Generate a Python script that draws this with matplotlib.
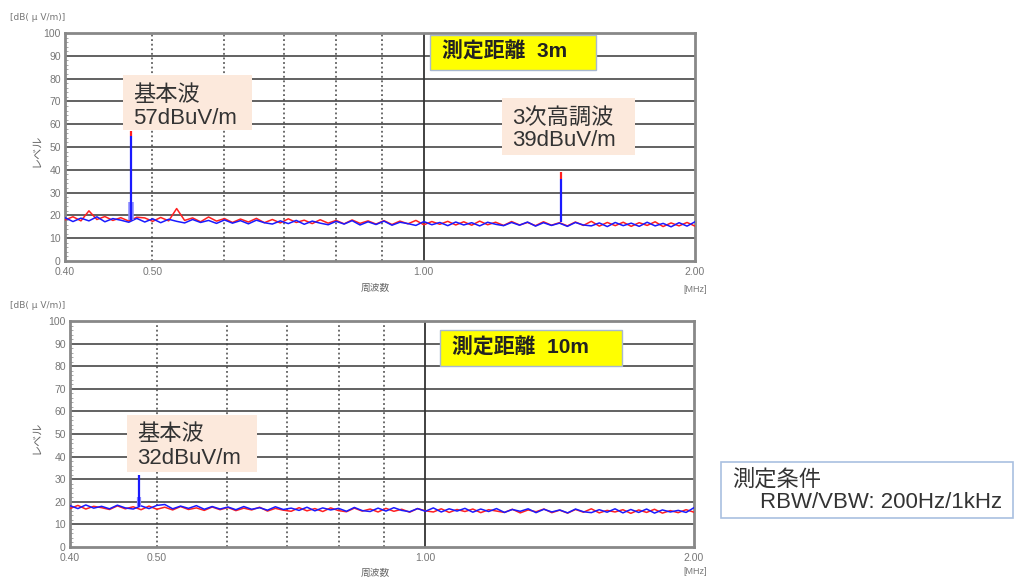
import numpy as np
import matplotlib
matplotlib.use("Agg")
import matplotlib.pyplot as plt
import matplotlib.ticker as ticker
from matplotlib.patches import Rectangle

plt.rcParams['font.family'] = ['Liberation Sans', 'Noto Sans CJK JP', 'DejaVu Sans']

# sweep range [MHz]
f_start, f_stop = 0.40, 2.00
x_ticks = [0.40, 0.50, 1.00, 2.00]
x_ticklabels = ['0.40', '0.50', '1.00', '2.00']
dash_grid = [0.5, 0.6, 0.7, 0.8, 0.9]
solid_grid = [1.0]

# noise floor (dBuV/m), 3m distance
red_3m = [18.0, 19.4, 17.6, 22.0, 18.2, 19.5, 17.8, 19.0, 17.5, 19.2,
          18.9, 17.4, 19.1, 17.6, 23.0, 17.8, 18.9, 17.2, 19.3, 17.5,
          18.6, 16.9, 18.4, 17.1, 18.7, 16.8, 18.2, 16.7, 18.5, 16.9,
          17.9, 16.4, 18.1, 16.6, 17.8, 16.3, 18.0, 16.5, 17.6, 16.2,
          17.7, 16.0, 17.5, 16.3, 17.8, 15.9, 17.3, 16.1, 17.4, 15.8,
          17.2, 15.7, 17.5, 15.9, 17.0, 15.6, 17.3, 15.8, 16.9, 15.5,
          17.2, 15.7, 16.8, 15.4, 17.1, 15.6, 17.4, 15.3, 16.9, 15.5,
          17.0, 15.2, 16.8, 15.6, 17.2, 15.1, 16.7, 15.4, 16.9, 15.3]
blue_3m = [19.0, 17.3, 18.8, 17.6, 19.4, 17.2, 18.6, 17.9, 17.0, 18.7,
           17.1, 18.5, 16.8, 18.3, 17.4, 16.7, 18.2, 16.9, 17.8, 16.5,
           18.0, 16.6, 17.7, 16.3, 17.9, 16.8, 16.2, 17.6, 16.4, 17.8,
           16.1, 17.5, 16.6, 15.9, 17.4, 16.2, 17.7, 15.8, 17.2, 16.0,
           17.5, 15.7, 17.0, 16.4, 15.6, 17.3, 15.9, 16.9, 15.5, 17.1,
           15.8, 16.8, 15.4, 17.0, 16.1, 15.5, 16.9, 15.7, 17.1, 15.3,
           16.8, 15.6, 16.6, 15.2, 16.9, 15.8, 15.4, 16.7, 15.1, 16.9,
           15.5, 16.6, 15.2, 17.0, 15.4, 16.5, 15.0, 16.8, 15.3, 17.2]

# 10m distance
red_10m = [17.0, 18.4, 16.8, 18.0, 17.4, 16.6, 18.2, 16.9, 17.8, 16.5,
           18.1, 16.7, 17.6, 16.4, 17.9, 16.6, 17.3, 16.2, 17.7, 16.5,
           17.5, 16.1, 17.2, 16.4, 17.6, 15.9, 17.1, 16.3, 15.8, 17.4,
           16.0, 17.0, 15.7, 17.3, 16.1, 15.6, 17.2, 15.9, 16.8, 15.5,
           17.1, 15.8, 16.7, 15.4, 17.0, 16.0, 15.5, 16.9, 15.3, 16.6,
           15.7, 16.8, 15.2, 16.5, 15.9, 15.3, 16.7, 15.1, 16.4, 15.6,
           16.8, 15.2, 16.3, 15.0, 16.6, 15.4, 16.9, 15.1, 16.2, 15.5,
           16.5, 14.9, 16.4, 15.3, 16.7, 15.0, 16.1, 15.2, 16.5, 15.4]
blue_10m = [18.3, 17.0, 18.6, 17.2, 18.0, 16.9, 18.5, 17.3, 16.8, 18.2,
            17.0, 18.4, 18.8, 16.9, 18.1, 17.1, 18.3, 16.7, 17.9, 16.8,
            17.7, 16.5, 17.9, 16.7, 17.4, 16.3, 17.8, 16.6, 17.2, 16.2,
            17.6, 16.0, 17.3, 16.4, 17.1, 15.8, 17.5, 16.1, 15.7, 17.2,
            15.9, 17.4, 16.2, 15.6, 17.0, 15.8, 17.3, 15.5, 16.9, 15.9,
            17.1, 15.4, 16.8, 15.7, 17.0, 15.3, 16.6, 15.8, 16.9, 15.2,
            16.7, 15.5, 16.4, 15.1, 16.8, 15.6, 15.2, 16.5, 15.4, 16.9,
            15.1, 16.6, 15.3, 16.8, 15.0, 16.4, 15.5, 16.2, 15.3, 17.4]

# peaks: frequency, floor, blue top, red top
peak_freq_3m = [0.474, 1.422]
peak_floor_3m = [18.0, 17.0]
peak_blue_3m = [55.0, 36.0]
peak_red_3m = [57.0, 39.0]
peak_freq_10m = [0.478]
peak_floor_10m = [17.5]
peak_blue_10m = [32.0]

W, H = 1014, 579
fig = plt.figure(figsize=(W / 100, H / 100), dpi=100)


def px(x0, y0, x1, y1):
    # pixel box (top-left origin) -> figure fraction rect
    return [x0 / W, 1 - y1 / H, (x1 - x0) / W, (y1 - y0) / H]


def setup(ax):
    ax.set_xscale('log')
    ax.set_xlim(f_start, f_stop)
    ax.set_ylim(0, 100)
    ax.set_xticks(x_ticks)
    ax.set_xticklabels(x_ticklabels)
    ax.xaxis.set_minor_locator(ticker.NullLocator())
    ax.set_yticks(range(0, 101, 10))
    ax.yaxis.set_minor_locator(ticker.MultipleLocator(2))
    ax.tick_params(axis='x', length=0, pad=4, labelsize=7.5, labelcolor='#777777')
    ax.tick_params(axis='y', which='major', length=0, pad=3, labelsize=7.5, labelcolor='#777777')
    ax.tick_params(axis='y', which='minor', direction='in', length=2, color='#999999')
    for y in range(10, 100, 10):
        ax.axhline(y, color='#555555', lw=1.3, zorder=1)
    for x in dash_grid:
        ax.axvline(x, color='#444444', lw=1.1, ls=(0, (1.2, 1.8)), zorder=1)
    for x in solid_grid:
        ax.axvline(x, color='#333333', lw=1.3, zorder=1)
    for s in ax.spines.values():
        s.set_color('#888888')
        s.set_linewidth(2)


def trace(ax, red, blue):
    f = np.geomspace(f_start, f_stop, len(red))
    ax.plot(f, red, color='#ff2020', lw=1.1, zorder=3)
    ax.plot(f, blue, color='#1a1aff', lw=1.1, zorder=4)


# top panel, 3m
ax1 = fig.add_axes(px(65, 33, 695, 261))
setup(ax1)
trace(ax1, red_3m, blue_3m)
ax1.vlines(peak_freq_3m, peak_floor_3m, peak_blue_3m, color='#1a1aff', lw=1.6, zorder=5)
ax1.vlines(peak_freq_3m, peak_blue_3m, peak_red_3m, color='#ff2020', lw=1.6, zorder=5)
ax1.vlines(peak_freq_3m[:1], peak_floor_3m[:1], [26], color='#8c8cff', lw=4, zorder=4)

# bottom panel, 10m
ax2 = fig.add_axes(px(70, 321, 694, 547))
setup(ax2)
trace(ax2, red_10m, blue_10m)
ax2.vlines(peak_freq_10m, peak_floor_10m, peak_blue_10m, color='#1a1aff', lw=1.6, zorder=5)
ax2.vlines(peak_freq_10m, peak_floor_10m, [22], color='#8c8cff', lw=3, zorder=4)

# axis captions
for yl, yc, xl, ym in [(18, 150, 288, 289), (305, 437, 573, 572)]:
    fig.text(10 / W, 1 - yl / H, '[dB( μ V/m)]', fontsize=6.5, color='#777777', va='center',
             family=['DejaVu Sans'])
    fig.text(36 / W, 1 - yc / H, 'レベル', rotation=90, fontsize=8, color='#666666',
             ha='center', va='center', family=['Noto Sans CJK JP'])
    fig.text(375 / W, 1 - xl / H, '周波数', fontsize=7, color='#666666', ha='center',
             va='center', family=['Noto Sans CJK JP'])
    fig.text(695 / W, 1 - ym / H, '[MHz]', fontsize=6.5, color='#777777', ha='center',
             va='center')


def box(x0, y0, x1, y1, face, edge='none', lw=0):
    fig.add_artist(Rectangle((x0 / W, 1 - y1 / H), (x1 - x0) / W, (y1 - y0) / H,
                             transform=fig.transFigure, facecolor=face, edgecolor=edge,
                             linewidth=lw, zorder=10))


def label(x, y, s, size=16, color='#333333', **kw):
    fig.text(x / W, 1 - y / H, s, fontsize=size, color=color, va='center', zorder=11, **kw)


peach = '#fce9dc'
box(123, 75, 252, 130, peach)
label(133, 95, '基本波')
label(133, 118, '57dBuV/m')

box(502, 98, 635, 155, peach)
label(512, 118, '3次高調波')
label(512, 140, '39dBuV/m')

box(430, 35, 596, 70, '#ffff00', '#a8b8d0', 1)
label(442, 52, '測定距離  3m', size=15, color='#222222', fontweight='bold')

box(440, 330, 622, 366, '#ffff00', '#a8b8d0', 1)
label(452, 348, '測定距離  10m', size=15, color='#222222', fontweight='bold')

box(127, 415, 257, 472, peach)
label(137, 434, '基本波')
label(137, 458, '32dBuV/m')

box(721, 462, 1013, 518, 'white', '#a9c0e0', 1.2)
label(732, 480, '測定条件')
label(760, 503, 'RBW/VBW: 200Hz/1kHz')

fig.savefig('out.png', dpi=100)
